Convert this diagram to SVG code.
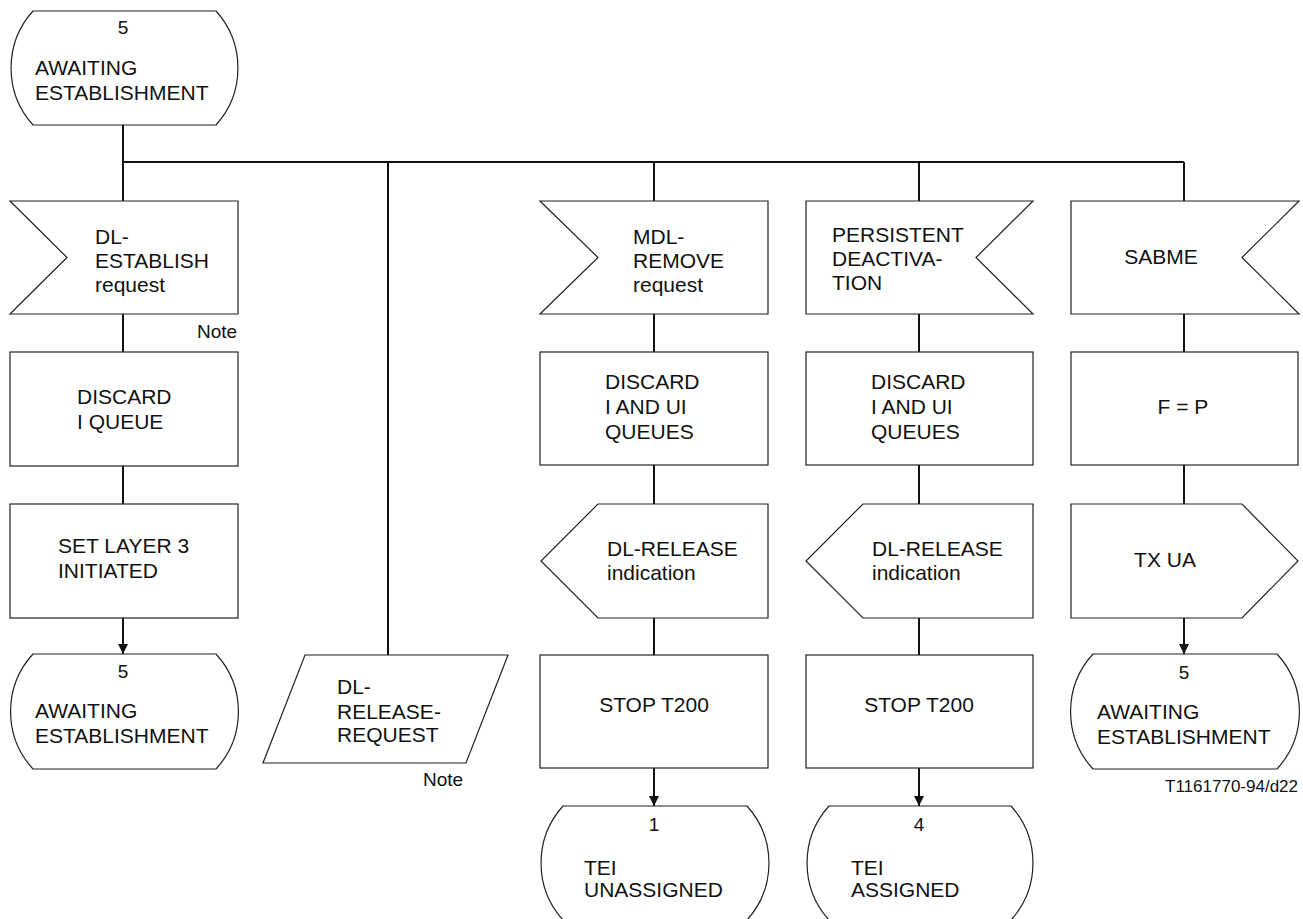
<svg xmlns="http://www.w3.org/2000/svg" width="1303" height="919" viewBox="0 0 1303 919">
<defs>
<style>
.s{fill:#fff;stroke:#222;stroke-width:1.2}
.c{fill:none;stroke:#111;stroke-width:2}
text{font-family:"Liberation Sans",Arial,sans-serif;fill:#111}
.t{font-size:21px}
.n{font-size:19px;text-anchor:middle}
.m{text-anchor:middle}
.note{font-size:19px}
</style>
<marker id="ah" markerWidth="10" markerHeight="12" refX="10" refY="5" orient="auto" markerUnits="userSpaceOnUse">
<path d="M0,0 L10,5 L0,10 Z" fill="#111"/>
</marker>
</defs>
<rect width="1303" height="919" fill="#fff"/>

<g id="connectors">
<path class="c" d="M123,125 V162 M123,162 H1184 M123,162 V201 M388,162 V655 M654,162 V201 M919,162 V201 M1184,162 V201"/>
<path class="c" d="M123,314 V352 M123,466 V504 M654,314 V352 M654,465 V504 M654,618 V655 M919,314 V352 M919,465 V504 M919,618 V655 M1184,314 V352 M1184,465 V504"/>
<path class="c" d="M123,618 V654" marker-end="url(#ah)"/>
<path class="c" d="M654,768 V806" marker-end="url(#ah)"/>
<path class="c" d="M919,768 V806" marker-end="url(#ah)"/>
<path class="c" d="M1184,618 V654" marker-end="url(#ah)"/>
</g>

<g id="state5top">
<path class="s" d="M33,11 H216 A85,85 0 0 1 216,125 H33 A85,85 0 0 1 33,11 Z"/>
<text class="n" x="123" y="34">5</text>
<text class="t" x="35" y="75">AWAITING</text>
<text class="t" x="35" y="100">ESTABLISHMENT</text>
</g>

<g id="in_dlestablish">
<path class="s" d="M10,201 H238 V314 H10 L67,257.5 Z"/>
<text class="t" x="95" y="244">DL-</text>
<text class="t" x="95" y="268">ESTABLISH</text>
<text class="t" x="95" y="292">request</text>
<text class="note" x="197" y="338">Note</text>
</g>

<g id="discard_i">
<rect class="s" x="10" y="352" width="228" height="114"/>
<text class="t" x="77" y="404">DISCARD</text>
<text class="t" x="77" y="429">I QUEUE</text>
</g>

<g id="setl3">
<rect class="s" x="10" y="504" width="228" height="114"/>
<text class="t" x="58" y="553">SET LAYER 3</text>
<text class="t" x="58" y="578">INITIATED</text>
</g>

<g id="state5a">
<path class="s" d="M33,654 H216 A85,85 0 0 1 216,769 H33 A85,85 0 0 1 33,654 Z"/>
<text class="n" x="123" y="678">5</text>
<text class="t" x="35" y="718">AWAITING</text>
<text class="t" x="35" y="743">ESTABLISHMENT</text>
</g>

<g id="dlreleasereq">
<path class="s" d="M305,655 H508 L466,763 H263 Z"/>
<text class="t" x="337" y="694">DL-</text>
<text class="t" x="337" y="719">RELEASE-</text>
<text class="t" x="337" y="742">REQUEST</text>
<text class="note" x="423" y="786">Note</text>
</g>

<g id="in_mdlremove">
<path class="s" d="M540,201 H768 V314 H540 L598,257.5 Z"/>
<text class="t" x="633" y="244">MDL-</text>
<text class="t" x="633" y="268">REMOVE</text>
<text class="t" x="633" y="292">request</text>
</g>

<g id="discard_iui_a">
<rect class="s" x="540" y="352" width="228" height="113"/>
<text class="t" x="605" y="389">DISCARD</text>
<text class="t" x="605" y="414">I AND UI</text>
<text class="t" x="605" y="439">QUEUES</text>
</g>

<g id="out_dlrelease_a">
<path class="s" d="M598,504 H768 V618 H598 L541,561 Z"/>
<text class="t" x="607" y="556">DL-RELEASE</text>
<text class="t" x="607" y="580">indication</text>
</g>

<g id="stop_a">
<rect class="s" x="540" y="655" width="228" height="113"/>
<text class="t m" x="654" y="712">STOP T200</text>
</g>

<g id="state1">
<path class="s" d="M563,806 H747 A85,85 0 0 1 747,920 H563 A85,85 0 0 1 563,806 Z"/>
<text class="n" x="654" y="831">1</text>
<text class="t" x="584" y="875">TEI</text>
<text class="t" x="584" y="897">UNASSIGNED</text>
</g>

<g id="in_persistent">
<path class="s" d="M806,201 H1033 L976,257.5 L1033,314 H806 Z"/>
<text class="t" x="832" y="242">PERSISTENT</text>
<text class="t" x="832" y="266">DEACTIVA-</text>
<text class="t" x="832" y="290">TION</text>
</g>

<g id="discard_iui_b">
<rect class="s" x="806" y="352" width="227" height="113"/>
<text class="t" x="871" y="389">DISCARD</text>
<text class="t" x="871" y="414">I AND UI</text>
<text class="t" x="871" y="439">QUEUES</text>
</g>

<g id="out_dlrelease_b">
<path class="s" d="M863,504 H1033 V618 H863 L806,561 Z"/>
<text class="t" x="872" y="556">DL-RELEASE</text>
<text class="t" x="872" y="580">indication</text>
</g>

<g id="stop_b">
<rect class="s" x="806" y="655" width="227" height="113"/>
<text class="t m" x="919" y="712">STOP T200</text>
</g>

<g id="state4">
<path class="s" d="M829,806 H1011 A85,85 0 0 1 1011,920 H829 A85,85 0 0 1 829,806 Z"/>
<text class="n" x="919" y="831">4</text>
<text class="t" x="851" y="875">TEI</text>
<text class="t" x="851" y="897">ASSIGNED</text>
</g>

<g id="in_sabme">
<path class="s" d="M1071,201 H1299 L1242,257.5 L1299,314 H1071 Z"/>
<text class="t m" x="1161" y="264">SABME</text>
</g>

<g id="fp">
<rect class="s" x="1071" y="352" width="227" height="113"/>
<text class="t m" x="1183" y="414">F = P</text>
</g>

<g id="out_txua">
<path class="s" d="M1071,504 H1242 L1298,561 L1242,618 H1071 Z"/>
<text class="t m" x="1165" y="567">TX UA</text>
</g>

<g id="state5b">
<path class="s" d="M1093,654 H1277 A85,85 0 0 1 1277,769 H1093 A85,85 0 0 1 1093,654 Z"/>
<text class="n" x="1184" y="679">5</text>
<text class="t" x="1097" y="719">AWAITING</text>
<text class="t" x="1097" y="744">ESTABLISHMENT</text>
</g>

<text id="ref" x="1298" y="792" font-size="17" text-anchor="end">T1161770-94/d22</text>
</svg>
